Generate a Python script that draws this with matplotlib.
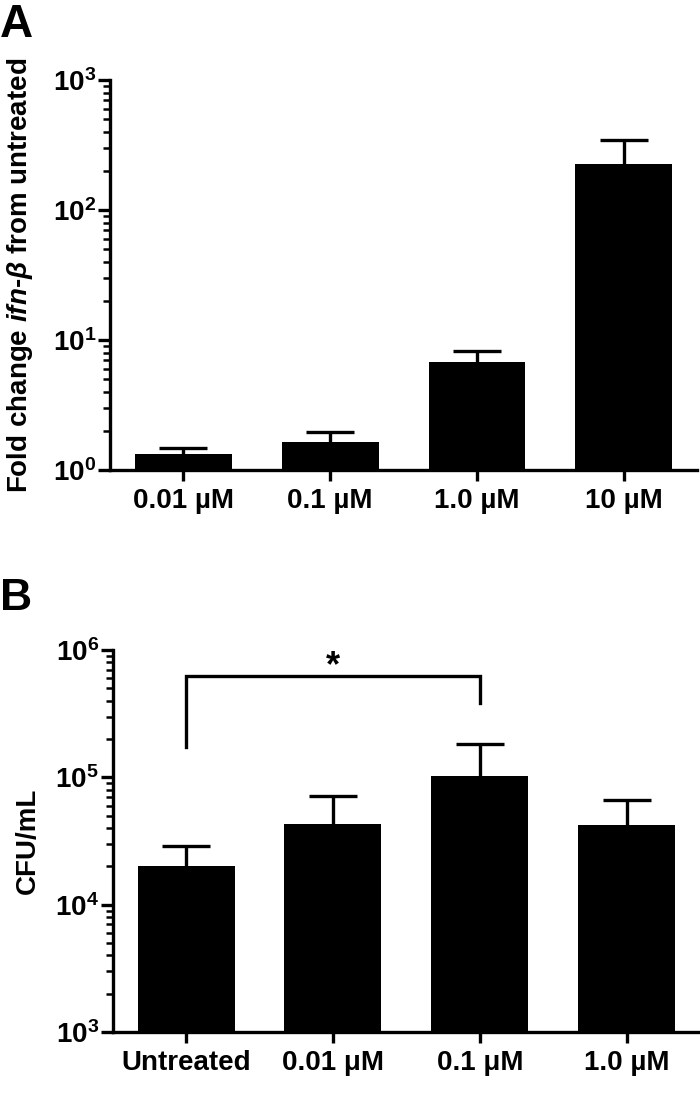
import matplotlib; matplotlib.use('Agg')
import matplotlib.pyplot as plt
import numpy as np
from matplotlib.ticker import FixedLocator, FixedFormatter, LogLocator, NullFormatter

plt.rcParams.update({'font.family': 'Liberation Sans', 'font.weight': 'bold',
                     'mathtext.fontset': 'custom',
                     'mathtext.rm': 'Liberation Sans:bold',
                     'mathtext.bf': 'Liberation Sans:bold',
                     'mathtext.it': 'Liberation Sans:italic:bold'})

# panel A: fold change ifn-beta
a_labels = ['0.01 µM', '0.1 µM', '1.0 µM', '10 µM']
a_mean = [1.33, 1.64, 6.8, 226]
a_err = [0.15, 0.32, 1.4, 120]

# panel B: CFU/mL
b_labels = ['Untreated', '0.01 μM', '0.1 μM', '1.0 µM']
b_mean = [2.0e4, 4.3e4, 1.02e5, 4.2e4]
b_err = [0.88e4, 2.9e4, 0.8e5, 2.5e4]

LW = 2.4
W = 0.66

def style(ax, lo, hi):
    ax.set_yscale('log')
    ax.set_ylim(lo, hi)
    ax.set_xlim(-0.5, 3.5)
    for s in ['top', 'right']:
        ax.spines[s].set_visible(False)
    for s in ['left', 'bottom']:
        ax.spines[s].set_linewidth(LW)
    exps = list(range(int(np.log10(lo)), int(np.log10(hi)) + 1))
    ax.yaxis.set_major_locator(FixedLocator([10.0**e for e in exps]))
    ax.yaxis.set_major_formatter(FixedFormatter([r'$\mathbf{10^{%d}}$' % e for e in exps]))
    ax.yaxis.set_minor_locator(LogLocator(base=10, subs=np.arange(2, 10)))
    ax.yaxis.set_minor_formatter(NullFormatter())
    ax.tick_params(axis='y', which='major', length=9, width=LW, labelsize=20, pad=1)
    ax.tick_params(axis='y', which='minor', length=5, width=1.8)
    ax.tick_params(axis='x', length=8, width=LW, labelsize=20, pad=5)

def bars(ax, labels, mean, err):
    x = np.arange(len(labels))
    ax.bar(x, mean, W, color='black', zorder=2)
    _, caps, _ = ax.errorbar(x, mean, yerr=[np.zeros(len(x)), err], fmt='none',
                             ecolor='black', elinewidth=LW, capsize=17,
                             capthick=LW, zorder=3)
    # hide the lower caps sitting on the bar tops
    for c in caps:
        if np.allclose(c.get_ydata(), mean):
            c.set_visible(False)
    ax.set_xticks(x)
    ax.set_xticklabels(labels, fontweight='bold')

fig = plt.figure(figsize=(7, 10.98), dpi=100)

axA = fig.add_axes([0.157, 0.572, 0.839, 0.355])
bars(axA, a_labels, a_mean, a_err)
style(axA, 1, 1000)
axA.set_ylabel(r'Fold change $\mathit{ifn}$-$\beta$ from untreated', fontsize=20, fontweight='bold')
axA.yaxis.set_label_coords(-0.128, 0.5)

axB = fig.add_axes([0.161, 0.060, 0.839, 0.348])
bars(axB, b_labels, b_mean, b_err)
style(axB, 1e3, 1e6)
axB.set_ylabel('CFU/mL', fontsize=20, fontweight='bold')
axB.yaxis.set_label_coords(-0.123, 0.5)

# significance bracket
axB.plot([0, 0, 2, 2], [1.72e5, 6.2e5, 6.2e5, 3.87e5], color='black', lw=LW,
         solid_joinstyle='miter', clip_on=False)
axB.text(1, 7.4e5, '*', ha='center', va='center', fontsize=26, fontweight='bold')

fig.text(0.0, 0.997, 'A', fontsize=33, fontweight='bold', ha='left', va='top')
fig.text(0.0, 0.474, 'B', fontsize=32, fontweight='bold', ha='left', va='top')

fig.savefig('out.png', dpi=100)
